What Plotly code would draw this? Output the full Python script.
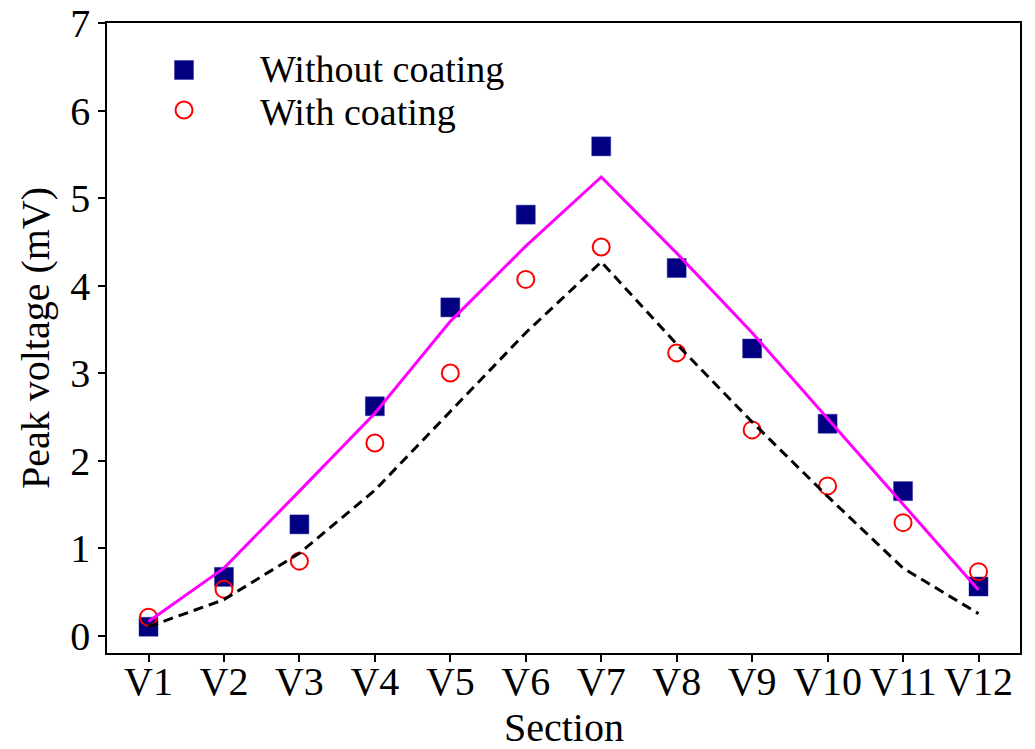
import plotly.graph_objects as go

sections = ["V1", "V2", "V3", "V4", "V5", "V6", "V7", "V8", "V9", "V10", "V11", "V12"]
without_coating = [0.10, 0.67, 1.27, 2.62, 3.75, 4.81, 5.59, 4.20, 3.28, 2.42, 1.65, 0.56]
with_coating = [0.21, 0.53, 0.85, 2.20, 3.00, 4.07, 4.44, 3.23, 2.35, 1.71, 1.29, 0.73]
fit_without = [0.16, 0.77, 1.65, 2.54, 3.59, 4.45, 5.24, 4.37, 3.46, 2.48, 1.49, 0.52]
fit_with = [0.10, 0.41, 0.94, 1.66, 2.56, 3.46, 4.27, 3.33, 2.44, 1.59, 0.77, 0.25]
y_ticks = [0, 1, 2, 3, 4, 5, 6, 7]
legend_labels = ["Without coating", "With coating"]
x_title = "Section"
y_title = "Peak voltage (mV)"

FONT = "Liberation Serif"
idx = list(range(len(sections)))

fig = go.Figure()
fig.add_trace(go.Scatter(x=idx, y=without_coating, mode="markers", name=legend_labels[0],
                         marker=dict(symbol="square", size=19, color="#000080",
                                     line=dict(width=0.5, color="#3333aa")),
                         showlegend=False))
fig.add_trace(go.Scatter(x=idx, y=with_coating, mode="markers", name=legend_labels[1],
                         marker=dict(symbol="circle-open", size=17, color="#ff0000",
                                     line=dict(width=2, color="#ff0000")),
                         showlegend=False))
fig.add_trace(go.Scatter(x=idx, y=fit_without, mode="lines",
                         line=dict(color="#ff00ff", width=3), showlegend=False))
fig.add_trace(go.Scatter(x=idx, y=fit_with, mode="lines",
                         line=dict(color="#000000", width=3, dash="10px,6px"), showlegend=False))

# manual legend (symbols + text) in paper coordinates
L, R, T, B = 107, 1020, 23, 653
def px(xp): return (xp - L) / (R - L)
def py(yp): return (B - yp) / (B - T)

shapes = [
    dict(type="rect", xref="paper", yref="paper", xsizemode="pixel", ysizemode="pixel",
         xanchor=px(184), yanchor=py(70), x0=-9.5, x1=9.5, y0=-9.5, y1=9.5,
         fillcolor="#000080", line=dict(width=0.5, color="#3333aa")),
    dict(type="circle", xref="paper", yref="paper", xsizemode="pixel", ysizemode="pixel",
         xanchor=px(184), yanchor=py(110), x0=-8.5, x1=8.5, y0=-8.5, y1=8.5,
         line=dict(width=2, color="#ff0000")),
]
annotations = [
    dict(text=legend_labels[0], xref="paper", yref="paper", x=px(259), y=py(69),
         xanchor="left", yanchor="middle", showarrow=False, borderpad=0,
         font=dict(family=FONT, size=38, color="black")),
    dict(text=legend_labels[1], xref="paper", yref="paper", x=px(259), y=py(112),
         xanchor="left", yanchor="middle", showarrow=False, borderpad=0,
         font=dict(family=FONT, size=38, color="black")),
    dict(text=x_title, xref="paper", yref="paper", x=0.5, y=py(727),
         xanchor="center", yanchor="middle", showarrow=False, borderpad=0,
         font=dict(family=FONT, size=40, color="black")),
]

fig.update_layout(
    width=1035, height=749,
    margin=dict(l=L, r=1035 - R, t=T, b=749 - B),
    paper_bgcolor="white", plot_bgcolor="white",
    font=dict(family=FONT, size=40, color="black"),
    shapes=shapes, annotations=annotations,
    showlegend=False,
)
fig.update_xaxes(range=[-0.55, 11.55], tickvals=idx, ticktext=sections, automargin=False,
                 showgrid=False, zeroline=False, showline=True, linecolor="black", linewidth=1.5,
                 mirror=True, ticks="outside", ticklen=7, tickwidth=1.5, tickcolor="black",
                 tickfont=dict(family=FONT, size=40), ticklabeloverflow="allow",
                 ticklabelstandoff=-15)
fig.update_yaxes(range=[-0.2, 7.0001], tickvals=y_ticks, automargin=False,
                 showgrid=False, zeroline=False, showline=True, linecolor="black", linewidth=1.5,
                 mirror=True, ticks="outside", ticklen=7, tickwidth=1.5, tickcolor="black",
                 tickfont=dict(family=FONT, size=40), ticklabeloverflow="allow",
                 title=dict(text=y_title, font=dict(family=FONT, size=40), standoff=8))

fig.write_html("out.html")
